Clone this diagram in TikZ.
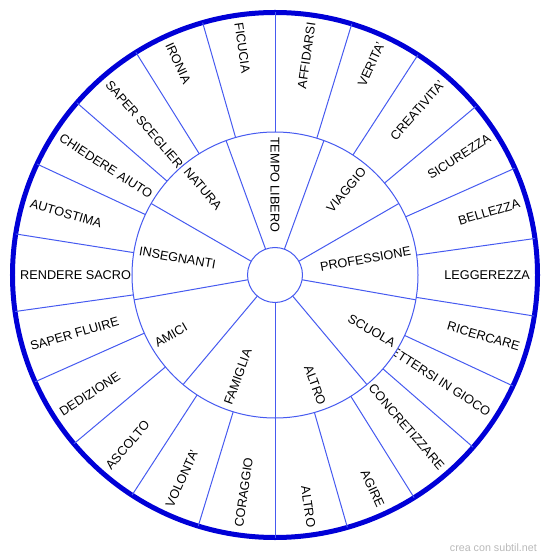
\documentclass[tikz,border=0pt]{standalone}
\usepackage{fontspec}
\setmainfont{Liberation Sans}
\usepackage{xcolor}
\usepackage{tikz}
\definecolor{rimblue}{RGB}{0,0,215}
\definecolor{spokeblue}{RGB}{70,90,240}
\definecolor{creditgray}{RGB}{185,185,185}

\begin{document}
\begin{tikzpicture}[
    x=1pt, y=1pt,
    ringc/.style={circle, draw=spokeblue, line width=1pt, fill=white, inner sep=0pt, outer sep=0pt},
    spoke/.style={spokeblue, line width=1pt},
    lbl/.style={inner sep=0pt, font=\fontsize{12.7}{15}\selectfont},
    outr/.style={lbl, anchor=east, rotate=#1},
    outl/.style={lbl, anchor=west, rotate=#1}
]
\useasboundingbox (-275,-284) rectangle (275,275);

\node[circle, draw=rimblue, line width=5pt, inner sep=0pt, outer sep=0pt, minimum size=525pt] (rim) at (0,0) {};

% outer ring labels
\node[outl=-81.82] (ficucia) at (98.18:255) {FICUCIA};
\node[outr=81.82] (affidarsi) at (81.82:255) {AFFIDARSI};
\node[outr=65.45] (verita) at (65.45:255) {VERITA'};
\node[outr=49.09] (creativita) at (49.09:255) {CREATIVITA'};
\node[outr=32.73] (sicurezza) at (32.73:255) {SICUREZZA};
\node[outr=16.36] (bellezza) at (16.36:255) {BELLEZZA};
\node[outr=0] (leggerezza) at (0:255) {LEGGEREZZA};
\node[outr=-16.36] (ricercare) at (-16.36:255) {RICERCARE};
\node[outr=-32.73] (mettersi) at (-32.73:255) {METTERSI IN GIOCO};
\node[outr=-49.09] (concretizzare) at (-49.09:255) {CONCRETIZZARE};
\node[outr=-65.45] (agire) at (-65.45:255) {AGIRE};
\node[outr=-81.82] (altroout) at (-81.82:255) {ALTRO};
\node[outl=81.82] (coraggio) at (-98.18:255) {CORAGGIO};
\node[outl=65.45] (volonta) at (-114.55:255) {VOLONTA'};
\node[outl=49.09] (ascolto) at (-130.91:255) {ASCOLTO};
\node[outl=32.73] (dedizione) at (-147.27:255) {DEDIZIONE};
\node[outl=16.36] (fluire) at (-163.64:255) {SAPER FLUIRE};
\node[outl=0] (sacro) at (180:255) {RENDERE SACRO};
\node[outl=-16.36] (autostima) at (163.64:255) {AUTOSTIMA};
\node[outl=-32.73] (aiuto) at (147.27:255) {CHIEDERE AIUTO};
\node[outl=-49.09] (scegliere) at (130.91:255) {SAPER SCEGLIERE};
\node[outl=-65.45] (ironia) at (114.55:255) {IRONIA};

% inner ring covers the label ends
\node[ringc, minimum size=286pt] (ring) at (0,0) {};
\foreach \a in {0,...,21}
    \draw[spoke] (ring.{90+\a*360/22}) -- (rim.{90+\a*360/22});

\node[ringc, minimum size=55pt] (hub) at (0,0) {};
\foreach \a in {30,70,...,350}
    \draw[spoke] (hub.\a) -- (ring.\a);

% inner ring labels
\node[outl=-90] (tempo) at (90:138) {TEMPO LIBERO};
\node[outr=50] (viaggio) at (50:138) {VIAGGIO};
\node[outr=10] (professione) at (10:138) {PROFESSIONE};
\node[outr=-30] (scuola) at (-30:138) {SCUOLA};
\node[outr=-70] (altroin) at (-70:138) {ALTRO};
\node[outl=70] (famiglia) at (250:138) {FAMIGLIA};
\node[outl=30] (amici) at (210:138) {AMICI};
\node[outl=-10] (insegnanti) at (170:138) {INSEGNANTI};
\node[outl=-50] (natura) at (130:138) {NATURA};

\node[anchor=base east, inner sep=0pt, text=creditgray, font=\fontsize{10.7}{13}\selectfont] (credit) at (262,-276) {crea con subtil.net};

\end{tikzpicture}
\end{document}
